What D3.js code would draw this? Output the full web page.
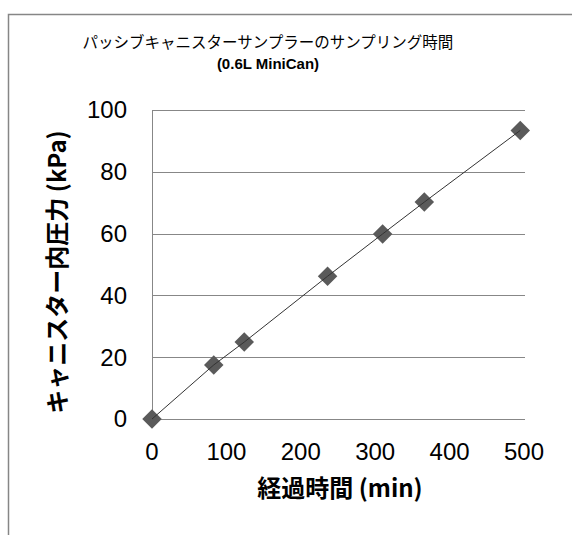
<!DOCTYPE html>
<html><head><meta charset="utf-8">
<script src="https://cdn.jsdelivr.net/npm/d3@7"></script>
<style>body{margin:0;background:#fff}svg{display:block}</style>
</head><body>
<svg id="c" width="572" height="535"></svg>
<script>
const titleLines = ["パッシブキャニスターサンプラーのサンプリング時間", "(0.6L MiniCan)"];
const xTitle = "経過時間 (min)";
const yTitle = "キャニスター内圧力 (kPa)";
const timeMin = [0, 83, 124, 236, 310, 366, 495];
const pressureKPa = [0, 17.5, 24.9, 46.2, 59.9, 70.2, 93.4];
const xTicks = [0, 100, 200, 300, 400, 500];
const yTicks = [0, 20, 40, 60, 80, 100];

const svg = d3.select("#c");
const m = {left:152, top:110, w:372, h:309};
const x = d3.scaleLinear().domain([0,500]).range([m.left, m.left+m.w]);
const y = d3.scaleLinear().domain([0,100]).range([m.top+m.h, m.top]);

// frame
svg.append("path").attr("d","M8.5,535 L8.5,14.5 L572,14.5").attr("fill","none").attr("stroke","#868686").attr("stroke-width",1.5);

// title
const tt = svg.append("text").attr("text-anchor","middle").attr("fill","#000");
tt.append("tspan").attr("x",268).attr("y",48).attr("font-family","'Noto Sans CJK JP', sans-serif").attr("font-size",15.5).text(titleLines[0]);
tt.append("tspan").attr("x",268).attr("y",69).attr("font-family","'Liberation Sans', Arial, sans-serif").attr("font-weight","bold").attr("font-size",15).text(titleLines[1]);

// gridlines
svg.append("g").selectAll("line").data(yTicks).join("line")
  .attr("x1",m.left).attr("x2",m.left+m.w+1)
  .attr("y1",d=>Math.round(y(d))+0.5).attr("y2",d=>Math.round(y(d))+0.5)
  .attr("stroke","#878787").attr("stroke-width",1);
// y axis line
svg.append("line").attr("x1",m.left+0.5).attr("x2",m.left+0.5).attr("y1",m.top).attr("y2",m.top+m.h+1)
  .attr("stroke","#878787");

// y tick labels
svg.append("g").selectAll("text").data(yTicks).join("text")
  .attr("x",127).attr("y",d=>y(d)).attr("dy","0.35em").attr("text-anchor","end")
  .attr("font-family","'Liberation Sans', Arial, sans-serif").attr("font-size",24).attr("fill","#000")
  .text(d=>d);
// x tick labels
svg.append("g").selectAll("text").data(xTicks).join("text")
  .attr("x",d=>x(d)).attr("y",452).attr("dy","0.35em").attr("text-anchor","middle")
  .attr("font-family","'Liberation Sans', Arial, sans-serif").attr("font-size",24).attr("fill","#000")
  .text(d=>d);

// axis titles
svg.append("text").attr("x",340).attr("y",497).attr("text-anchor","middle")
  .attr("font-family","'Noto Sans CJK JP', sans-serif").attr("font-weight","bold").attr("font-size",24).attr("fill","#000")
  .text(xTitle);
svg.append("text").attr("transform","translate(66,272) rotate(-90)").attr("text-anchor","middle")
  .attr("font-family","'Noto Sans CJK JP', sans-serif").attr("font-weight","bold").attr("font-size",24).attr("fill","#000")
  .text(yTitle);

const pts = timeMin.map((t,i)=>[t, pressureKPa[i]]);
// markers
const sym = d3.symbol().type(d3.symbolSquare).size(190);
svg.append("g").selectAll("path").data(pts).join("path")
  .attr("d",sym).attr("transform",d=>`translate(${x(d[0])},${y(d[1])}) rotate(45)`)
  .attr("fill","#5a5a5a");
// line
svg.append("path").datum(pts)
  .attr("d",d3.line().x(d=>x(d[0])).y(d=>y(d[1])))
  .attr("fill","none").attr("stroke","#333").attr("stroke-width",1);
</script>
</body></html>
